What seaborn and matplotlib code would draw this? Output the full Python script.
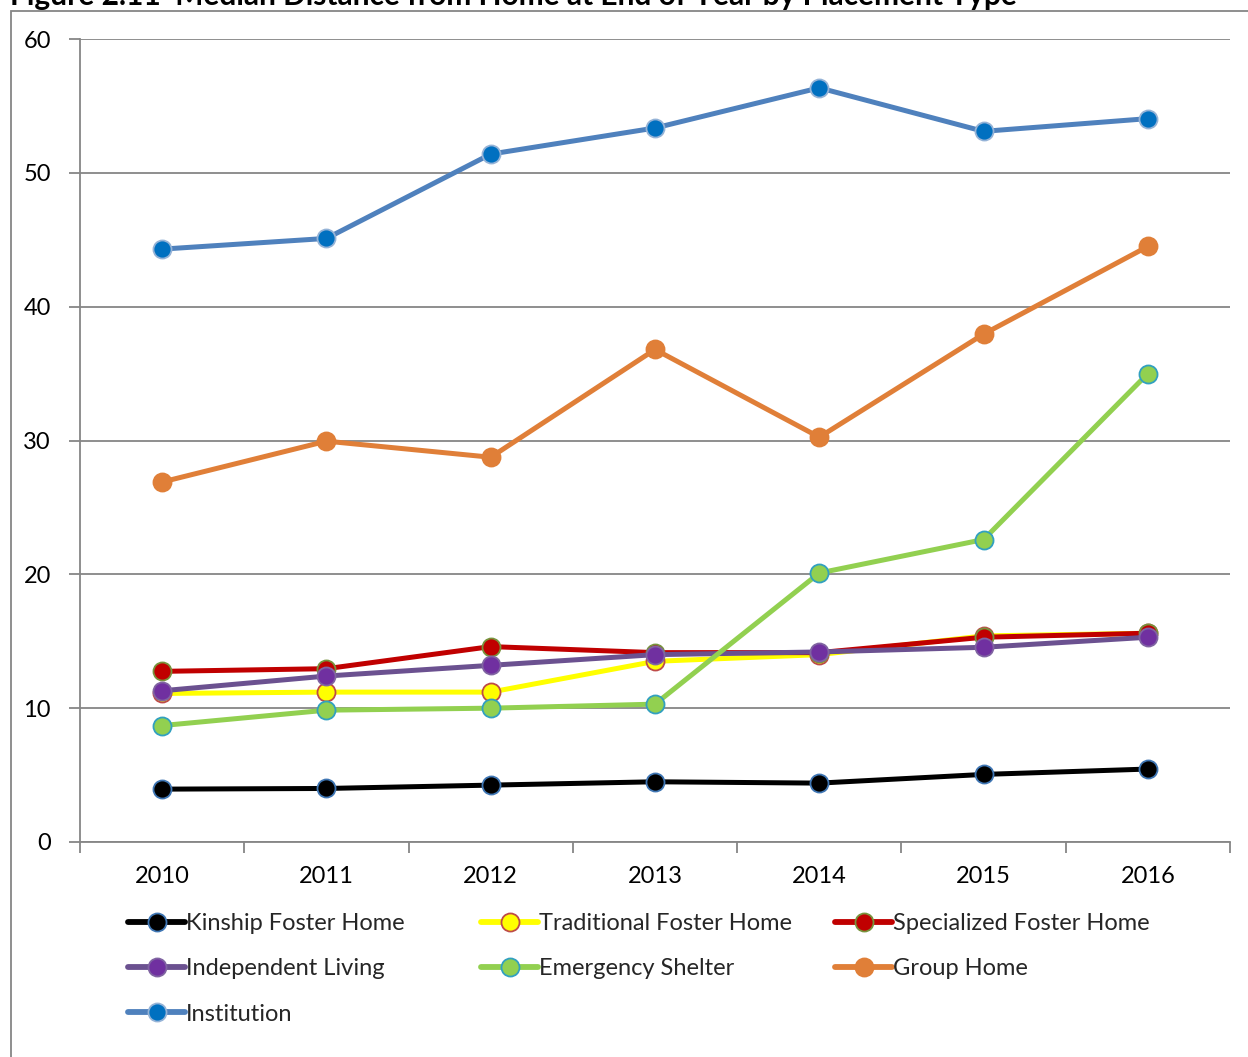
import matplotlib
matplotlib.use("Agg")
import matplotlib.pyplot as plt
import seaborn as sns
import pandas as pd
from matplotlib.lines import Line2D
from matplotlib.patches import Rectangle

years = ["2010", "2011", "2012", "2013", "2014", "2015", "2016"]

kinship = [3.95, 4.0, 4.25, 4.5, 4.4, 5.05, 5.45]
traditional = [11.1, 11.2, 11.2, 13.5, 14.0, 15.4, 15.6]
specialized = [12.75, 12.95, 14.6, 14.15, 14.15, 15.3, 15.6]
independent = [11.3, 12.4, 13.2, 14.0, 14.2, 14.55, 15.3]
emergency = [8.7, 9.85, 10.0, 10.3, 20.1, 22.6, 35.0]
group_home = [26.9, 29.95, 28.75, 36.8, 30.25, 37.95, 44.5]
institution = [44.3, 45.1, 51.4, 53.35, 56.35, 53.1, 54.05]

series_names = ["Kinship Foster Home", "Traditional Foster Home", "Specialized Foster Home",
                "Independent Living", "Emergency Shelter", "Group Home", "Institution"]
series_values = [kinship, traditional, specialized, independent, emergency, group_home, institution]

# line colour, marker face, marker edge
styles = [
    ("#000000", "#000000", "#3f76b4"),
    ("#ffff00", "#ffff00", "#be4b48"),
    ("#c00000", "#c00000", "#77933c"),
    ("#6b5190", "#7030a0", "#8064a2"),
    ("#92d050", "#92d050", "#31a0c0"),
    ("#e07f38", "#e07f38", "#e07f38"),
    ("#4f81bd", "#0070c0", "#95b3d7"),
]

sns.set_theme(style="white")
plt.rcParams["font.family"] = ["Lato", "DejaVu Sans"]

W, H = 1248, 1057
fig = plt.figure(figsize=(W / 100, H / 100), dpi=100)
ax = fig.add_axes([80 / W, 1 - 842 / H, (1230 - 80) / W, (842 - 39) / H])

grid_c = "#868686"
FS = 17
LW = 3.6
MS = 13
x_pos = list(range(len(years)))
handles = []
for name, vals, (lc, fc, ec) in zip(series_names, series_values, styles):
    df = pd.DataFrame({"x": x_pos, "y": vals})
    sns.lineplot(data=df, x="x", y="y", ax=ax, color=lc, linewidth=LW,
                 marker="o", markersize=MS, markerfacecolor=fc,
                 markeredgecolor=ec, markeredgewidth=1.3, legend=False)
    handles.append(Line2D([], [], color=lc, linewidth=LW + 0.6, marker="o", markersize=MS,
                          markerfacecolor=fc, markeredgecolor=ec, markeredgewidth=1.3,
                          label=name))

ax.set_xlim(-0.5, 6.5)
ax.set_ylim(0, 60)
ax.set_yticks(range(0, 61, 10))
ax.set_xticks(x_pos)
ax.set_xticklabels(years)
ax.set_xticks([i - 0.5 for i in range(8)], minor=True)
ax.set_xlabel("")
ax.set_ylabel("")
ax.yaxis.grid(True, color=grid_c, linewidth=1.3)
ax.xaxis.grid(False)
ax.set_axisbelow(True)
for s in ["top", "right"]:
    ax.spines[s].set_visible(False)
for s in ["left", "bottom"]:
    ax.spines[s].set_color(grid_c)
    ax.spines[s].set_linewidth(1.3)
ax.tick_params(axis="y", which="major", direction="out", length=8, width=1.3,
               color=grid_c, left=True, labelsize=FS, labelcolor="black", pad=13)
ax.tick_params(axis="x", which="major", length=0, labelsize=FS, labelcolor="black", pad=17)
ax.tick_params(axis="x", which="minor", direction="out", length=8, width=1.3,
               color=grid_c, bottom=True)

# outer chart frame
fig.patches.append(Rectangle((11 / W, -0.01), 1.0, 1 - 11 / H + 0.01,
                             transform=fig.transFigure, fill=False,
                             edgecolor=grid_c, linewidth=1.3))

fig.text(10 / W, 1 - 5 / H, "Figure 2.11  Median Distance from Home at End of Year by Placement Type",
         fontsize=21.5, fontweight="bold", ha="left", va="baseline", color="black")

# legend laid out as three columns
col_x = [128, 481, 835]
col_items = [[0, 3, 6], [1, 4], [2, 5]]
for cx, items in zip(col_x, col_items):
    fig.legend(handles=[handles[i] for i in items], loc="upper left",
               bbox_to_anchor=(cx / W, 1 - 913 / H), frameon=False,
               fontsize=FS, handlelength=2.42, handletextpad=0.05,
               labelspacing=1.03, borderaxespad=0, borderpad=0)

fig.savefig("out.png", dpi=100)
